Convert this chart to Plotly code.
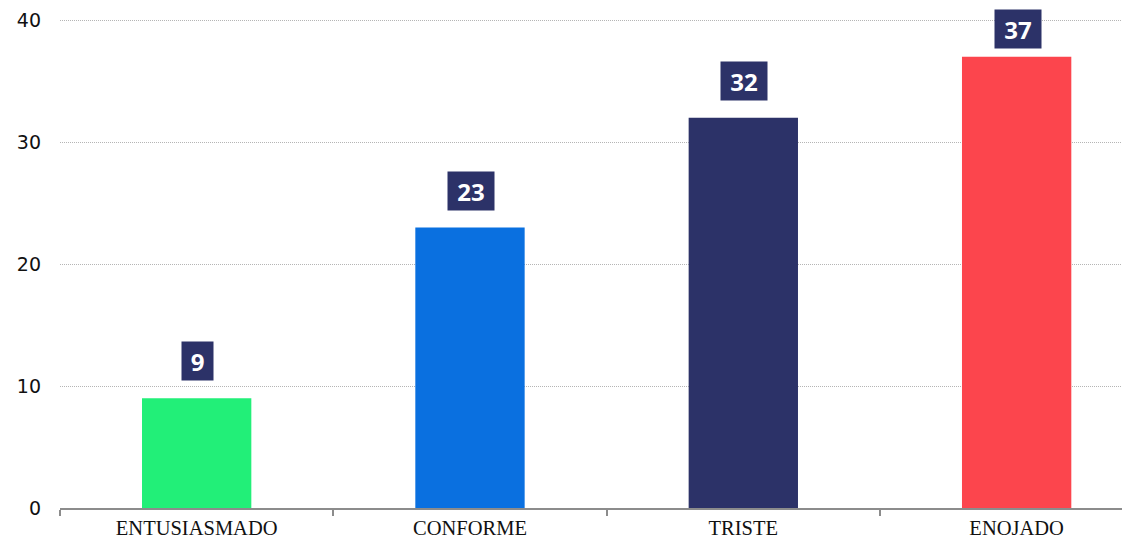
import plotly.graph_objects as go

categories = ["ENTUSIASMADO", "CONFORME", "TRISTE", "ENOJADO"]
values = [9, 23, 32, 37]
colors = ["#22EF78", "#0A70E0", "#2C3268", "#FC454D"]
y_ticks = [0, 10, 20, 30, 40]

fig = go.Figure()
fig.add_trace(go.Bar(
    x=categories, y=values, marker=dict(color=colors, line=dict(width=0)),
    width=0.4, hoverinfo="skip",
))

ymax = 40.1
for c, v in zip(categories, values):
    shift = 17 if v <= 34 else 8
    txt = str(v)
    fig.add_annotation(
        x=c, y=v, text="<b>%s</b>" % txt, showarrow=False,
        yanchor="bottom", yshift=shift, xshift=1,
        width=15 * len(txt) + 10, height=32,
        font=dict(family="Open Sans", size=24, color="white"),
        bgcolor="#2C3268", borderpad=3,
    )

fig.update_layout(
    width=1130, height=542,
    margin=dict(l=52, r=0, t=11, b=42),
    plot_bgcolor="white", paper_bgcolor="white",
    showlegend=False, bargap=0.6,
    xaxis=dict(
        type="category", range=[-0.5, 3.444],
        showline=True, linecolor="#8c8c8c", linewidth=2,
        ticks="outside", ticklen=6, tickcolor="#8c8c8c", tickwidth=2,
        tickson="boundaries", showgrid=False,
        tickfont=dict(family="Liberation Serif", size=20.5, color="#111"),
    ),
    yaxis=dict(
        range=[0, ymax], tickvals=y_ticks,
        showgrid=True, gridcolor="#b5b5b5", griddash="1px,1px", gridwidth=1,
        zeroline=False, showline=False,
        ticklabelstandoff=18,
        tickfont=dict(family="DejaVu Sans", size=19, color="#111"),
    ),
)

fig.write_html("out.html")
